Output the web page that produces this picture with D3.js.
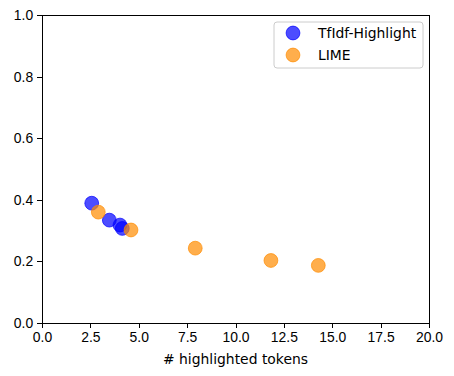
<!DOCTYPE html>
<html>
<head>
<meta charset="utf-8">
<script src="https://cdn.jsdelivr.net/npm/d3@7"></script>
<style>
  body { margin: 0; background: #fff; }
  svg { font-family: "DejaVu Sans", sans-serif; }
</style>
</head>
<body>
<div id="plot-container"></div>
<script>
const w = 454;
const h = 376;
const margin = { left: 42, right: 25, top: 15, bottom: 53 };

// data
const tfidfX = [2.57, 3.48, 4.03, 4.15];
const tfidfY = [0.389, 0.334, 0.318, 0.307];
const limeX = [2.91, 4.60, 7.92, 11.83, 14.28];
const limeY = [0.360, 0.302, 0.243, 0.203, 0.187];
const xTicks = [0, 2.5, 5, 7.5, 10, 12.5, 15, 17.5, 20];
const yTicks = [0, 0.2, 0.4, 0.6, 0.8, 1.0];
const seriesNames = ['TfIdf-Highlight', 'LIME'];
const seriesColors = ['#0000ff', '#ff8c00'];

const svg = d3.select('#plot-container')
    .append('svg')
    .attr('width', w)
    .attr('height', h);

const xScale = d3.scaleLinear()
    .domain([0, 20])
    .range([margin.left, w - margin.right]);
const yScale = d3.scaleLinear()
    .domain([0, 1])
    .range([h - margin.bottom, margin.top]);

const xAxis = d3.axisBottom(xScale).tickValues(xTicks).tickFormat(d3.format('.1f'))
    .tickSizeInner(4.86).tickSizeOuter(0).tickPadding(4);
const yAxis = d3.axisLeft(yScale).tickValues(yTicks).tickFormat(d3.format('.1f'))
    .tickSizeInner(4.86).tickSizeOuter(0).tickPadding(4);

const gx = svg.append('g')
    .attr('transform', 'translate(0,' + (h - margin.bottom) + ')')
    .call(xAxis);
const gy = svg.append('g')
    .attr('transform', 'translate(' + margin.left + ',0)')
    .call(yAxis);

[gx, gy].forEach(g => {
    g.select('.domain').remove();
    g.selectAll('text').style('font-size', '13.9px').attr('fill', '#000');
    g.selectAll('line').attr('stroke', '#000').attr('stroke-width', 1)
        .attr('shape-rendering', 'crispEdges');
});

// frame
svg.append('rect')
    .attr('x', margin.left)
    .attr('y', margin.top)
    .attr('width', w - margin.left - margin.right)
    .attr('height', h - margin.top - margin.bottom)
    .attr('fill', 'none')
    .attr('stroke', '#000')
    .attr('stroke-width', 1)
    .attr('shape-rendering', 'crispEdges');

svg.append('text')
    .attr('x', (margin.left + w - margin.right) / 2)
    .attr('y', 364)
    .attr('text-anchor', 'middle')
    .style('font-size', '13.9px')
    .text('# highlighted tokens');

const series = [
    { name: seriesNames[0], color: seriesColors[0], pts: tfidfX.map((x, i) => [x, tfidfY[i]]) },
    { name: seriesNames[1], color: seriesColors[1], pts: limeX.map((x, i) => [x, limeY[i]]) }
];

series.forEach(s => {
    svg.append('g')
        .selectAll('circle')
        .data(s.pts)
        .enter()
        .append('circle')
        .attr('cx', d => xScale(d[0]))
        .attr('cy', d => yScale(d[1]))
        .attr('r', 6.9)
        .attr('fill', s.color)
        .attr('fill-opacity', 0.7)
        .attr('stroke', s.color)
        .attr('stroke-opacity', 0.7);
});

// legend
const legend = svg.append('g').attr('transform', 'translate(274,22)');
legend.append('rect')
    .attr('width', 149)
    .attr('height', 46)
    .attr('rx', 3)
    .attr('fill', '#fff')
    .attr('fill-opacity', 0.8)
    .attr('stroke', '#ccc')
    .attr('stroke-width', 1);

series.forEach((s, i) => {
    const row = legend.append('g').attr('transform', 'translate(0,' + (11 + i * 22) + ')');
    row.append('circle')
        .attr('cx', 19)
        .attr('cy', 0)
        .attr('r', 6.9)
        .attr('fill', s.color)
        .attr('fill-opacity', 0.7)
        .attr('stroke', s.color)
        .attr('stroke-opacity', 0.7);
    row.append('text')
        .attr('x', 44)
        .attr('y', 0)
        .attr('dy', '0.36em')
        .style('font-size', '13.9px')
        .text(s.name);
});
</script>
</body>
</html>
